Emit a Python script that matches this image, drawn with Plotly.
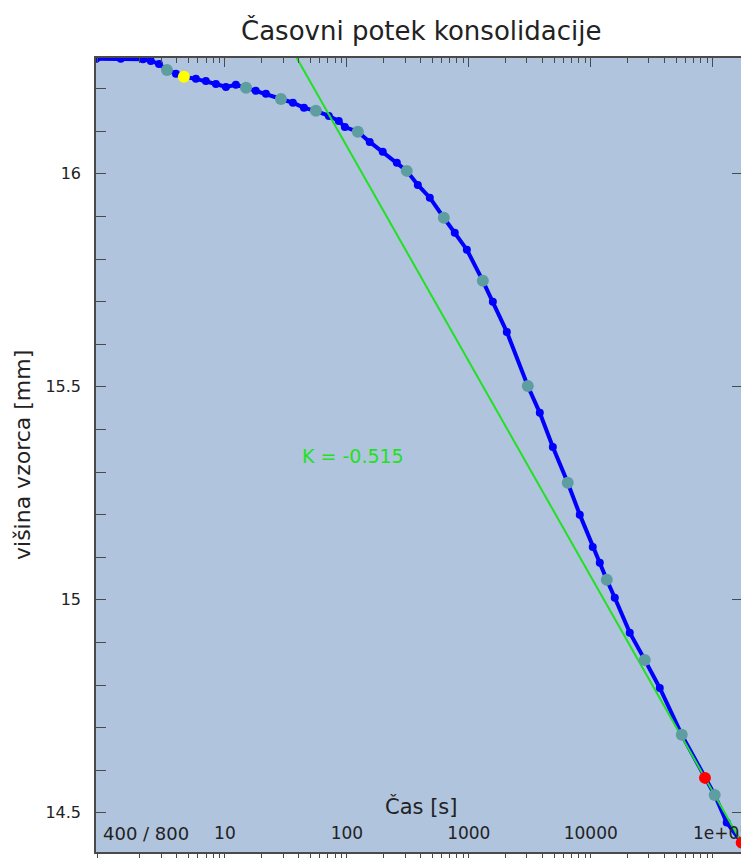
import math
import plotly.graph_objects as go

# ---- data ----
time_s = [0.88, 1.4, 2.13, 2.47, 2.88, 3.35, 3.97, 4.61, 5.78, 6.98, 8.44, 10.2, 12.3, 14.9,
          17.9, 21.7, 28.8, 36.1, 44.5, 55.7, 71.2, 85.9, 96.3, 123, 154, 197, 257, 310, 382,
          479, 624, 767, 964, 1303, 1574, 2049, 3046, 3822, 4887, 6475, 8128, 10380, 11860,
          13530, 15740, 20890, 27730, 36810, 55760, 86400, 103800, 130300, 172800]
height_mm = [16.270, 16.270, 16.269, 16.265, 16.258, 16.244, 16.235, 16.228, 16.223, 16.218,
             16.211, 16.204, 16.209, 16.202, 16.195, 16.188, 16.176, 16.167, 16.155, 16.148,
             16.136, 16.124, 16.110, 16.099, 16.075, 16.052, 16.026, 16.007, 15.974, 15.944,
             15.897, 15.862, 15.822, 15.749, 15.700, 15.629, 15.502, 15.439, 15.359, 15.275,
             15.200, 15.124, 15.087, 15.047, 15.005, 14.923, 14.859, 14.793, 14.683, 14.582,
             14.542, 14.477, 14.430]

read_t = [3.35, 14.9, 28.8, 55.7, 123, 310, 624, 1303, 3046, 6475, 13530, 27730, 55760, 103800]
read_h = [16.244, 16.202, 16.176, 16.148, 16.099, 16.007, 15.897, 15.749, 15.502, 15.275,
          15.047, 14.859, 14.683, 14.542]

start_t = [4.61]
start_h = [16.228]

tangent_t = [86400, 172800]
tangent_h = [14.582, 14.430]

k_label = "K = -0.515"
x_tickvals = [10, 100, 1000, 10000, 100000]
x_ticktext = ["10", "100", "1000", "10000", ""]
edge_tick_val = 100000
edge_tick_text = "1e+05"
y_tickvals = [14.5, 15, 15.5, 16]
y_ticktext = ["14.5", "15", "15.5", "16"]

# tangent line through the two red points, extended
slope = (tangent_h[1] - tangent_h[0]) / (math.log10(tangent_t[1]) - math.log10(tangent_t[0]))
line_t = [20, 200000]
line_h = [tangent_h[0] + slope * (math.log10(t) - math.log10(tangent_t[0])) for t in line_t]

minor_x = [m * 10 ** d for d in range(-1, 6) for m in range(2, 10)]

FONT = "DejaVu Sans"
AX = "#4a4a4a"

fig = go.Figure()
fig.add_trace(go.Scatter(x=time_s, y=height_mm, mode="lines+markers",
                         line=dict(color="#0000ff", width=4),
                         marker=dict(color="#0000ff", size=8), hoverinfo="skip"))
fig.add_trace(go.Scatter(x=line_t, y=line_h, mode="lines",
                         line=dict(color="#22e022", width=2), hoverinfo="skip"))
fig.add_trace(go.Scatter(x=read_t, y=read_h, mode="markers",
                         marker=dict(color="#5f9ea0", size=12), hoverinfo="skip"))
fig.add_trace(go.Scatter(x=start_t, y=start_h, mode="markers",
                         marker=dict(color="#ffff00", size=12), hoverinfo="skip"))
fig.add_trace(go.Scatter(x=tangent_t, y=tangent_h, mode="markers",
                         marker=dict(color="#ff0000", size=12), hoverinfo="skip"))
fig.add_trace(go.Scatter(x=[], y=[], xaxis="x2", yaxis="y2", showlegend=False))

xr = [-0.057, 5.232]
yr = [14.408, 16.272]

fig.update_layout(
    width=741, height=858,
    margin=dict(l=96, r=0, t=58, b=6, autoexpand=False),
    plot_bgcolor="#b0c4de", paper_bgcolor="white",
    showlegend=False,
    xaxis=dict(type="log", range=xr, tickmode="array", tickvals=x_tickvals, ticktext=x_ticktext,
               ticklabelposition="inside", ticks="outside", ticklen=6, tickcolor=AX,
               ticklabelstandoff=10, automargin=False,
               showline=True, linecolor=AX, linewidth=1.5, showgrid=False, zeroline=False,
               minor=dict(tickmode="array", tickvals=minor_x, ticks="outside", ticklen=6,
                          tickcolor=AX, showgrid=False),
               tickfont=dict(family=FONT, size=17, color="#222")),
    xaxis2=dict(type="log", range=xr, overlaying="x", side="top", tickmode="array",
                tickvals=x_tickvals, showticklabels=False, ticks="inside", ticklen=9,
                tickcolor=AX, showline=True, linecolor=AX, linewidth=1.5, showgrid=False,
                zeroline=False, automargin=False,
                minor=dict(tickmode="array", tickvals=minor_x, ticks="inside", ticklen=5,
                           tickcolor=AX, showgrid=False)),
    yaxis=dict(range=yr, tickmode="array", tickvals=y_tickvals, ticktext=y_ticktext,
               ticks="inside", ticklen=10, tickcolor=AX, showline=True, linecolor=AX,
               linewidth=1.5, showgrid=False, zeroline=False, ticklabelstandoff=10,
               automargin=False,
               minor=dict(dtick=0.1, tick0=14.5, ticks="inside", ticklen=10, tickcolor=AX,
                          showgrid=False),
               tickfont=dict(family=FONT, size=16, color="#222")),
    yaxis2=dict(range=yr, overlaying="y", side="right", tickmode="array", tickvals=y_tickvals,
                showticklabels=False, ticks="inside", ticklen=9, tickcolor=AX,
                showline=False, showgrid=False, zeroline=False, automargin=False),
    annotations=[
        dict(text="Časovni potek konsolidacije", xref="paper", yref="paper", x=(421 - 96) / 645,
             y=1 + 28 / 794, xanchor="center", yanchor="middle", showarrow=False,
             font=dict(family=FONT, size=26, color="#222")),
        dict(text="Čas [s]", xref="paper", yref="paper", x=(421 - 96) / 645,
             y=(852 - 806) / 794, xanchor="center", yanchor="middle", showarrow=False,
             font=dict(family=FONT, size=21, color="#222")),
        dict(text="višina vzorca [mm]", xref="paper", yref="paper", x=-(96 - 22) / 645,
             y=(852 - 455) / 794, xanchor="center", yanchor="middle", showarrow=False,
             textangle=-90, font=dict(family=FONT, size=22, color="#222")),
        dict(text="400 / 800", xref="paper", yref="paper", x=(101 - 96) / 645,
             y=(852 - 833) / 794, xanchor="left", yanchor="middle", showarrow=False,
             font=dict(family=FONT, size=18, color="#222")),
        dict(text=edge_tick_text, xref="x", yref="paper", x=math.log10(edge_tick_val),
             xshift=-22, y=(852 - 833) / 794, xanchor="left", yanchor="middle",
             showarrow=False, font=dict(family=FONT, size=17, color="#222")),
        dict(text=k_label, xref="paper", yref="paper", x=(300 - 96) / 645,
             y=(852 - 456) / 794, xanchor="left", yanchor="middle", showarrow=False,
             font=dict(family=FONT, size=19, color="#22e022")),
    ],
)

fig.write_html("out.html", config={"displayModeBar": False},
               post_script="document.body.style.margin='0';document.body.style.overflow='hidden';")
